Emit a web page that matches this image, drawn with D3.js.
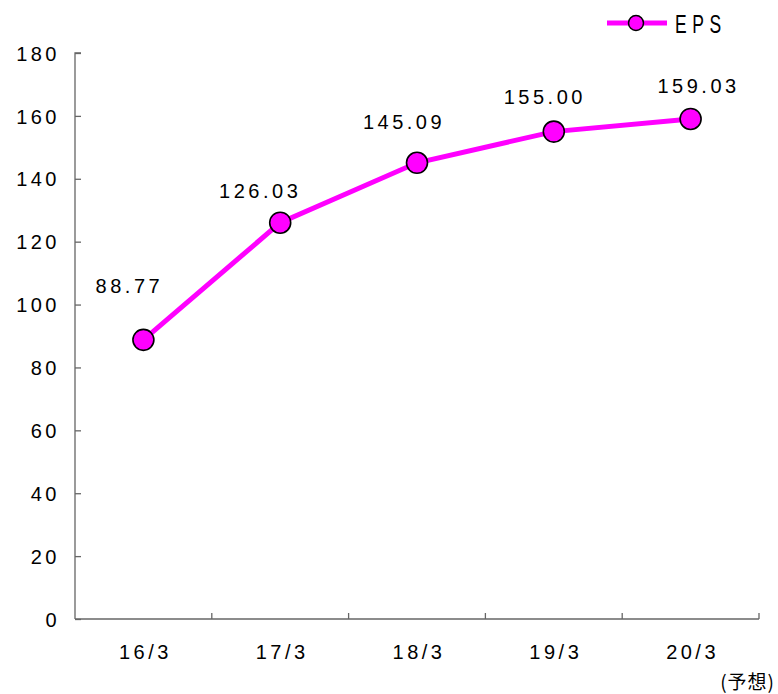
<!DOCTYPE html>
<html>
<head>
<meta charset="utf-8">
<script src="https://cdn.jsdelivr.net/npm/d3@7"></script>
<style>
  body { margin: 0; background: #fff; }
  svg { display: block; font-family: "Liberation Sans", Arial, sans-serif; }
</style>
</head>
<body>
<div id="chart"></div>
<script>
// data
const categories = ['16/3', '17/3', '18/3', '19/3', '20/3'];
const eps = [88.77, 126.03, 145.09, 155.00, 159.03];
const yTicks = [0, 20, 40, 60, 80, 100, 120, 140, 160, 180];
const seriesName = 'EPS';
const forecastNote = '(予想)';

const W = 778, H = 694;
const plot = { left: 75, right: 759, top: 53, bottom: 619 };
const magenta = '#ff00ff';
const axisColor = '#666';
const fontSize = '20px';
const spacing = '3.5px';

const svg = d3.select('#chart').append('svg')
    .attr('width', W)
    .attr('height', H);

const x = d3.scaleBand()
    .domain(categories)
    .range([plot.left, plot.right]);

const y = d3.scaleLinear()
    .domain([0, 180])
    .range([plot.bottom, plot.top]);

// y axis (ticks point inward)
const yAxis = svg.append('g')
    .attr('transform', `translate(${plot.left},0)`)
    .call(d3.axisRight(y).tickValues(yTicks).tickSize(6).tickFormat(d3.format('d')));
yAxis.select('.domain').attr('d', `M6,${plot.top}H0V${plot.bottom}`).attr('stroke', axisColor).attr('stroke-width', 1.3);
yAxis.selectAll('.tick line').attr('stroke', axisColor).attr('stroke-width', 1.3);
yAxis.selectAll('.tick text')
    .attr('x', -15)
    .attr('text-anchor', 'end')
    .attr('dy', '0.36em')
    .attr('fill', '#000')
    .style('font-size', fontSize)
    .style('letter-spacing', spacing);

// x axis (ticks between categories, pointing up)
const xAxis = svg.append('g')
    .attr('transform', `translate(0,${plot.bottom})`);
xAxis.append('line')
    .attr('x1', plot.left).attr('x2', plot.right)
    .attr('stroke', axisColor).attr('stroke-width', 1.3);
xAxis.selectAll('.xtick')
    .data(categories)
    .enter()
    .append('line')
    .attr('x1', d => x(d) + x.bandwidth())
    .attr('x2', d => x(d) + x.bandwidth())
    .attr('y1', 0).attr('y2', -6)
    .attr('stroke', axisColor).attr('stroke-width', 1.3);
xAxis.selectAll('.xlabel')
    .data(categories)
    .enter()
    .append('text')
    .attr('x', d => x(d) + x.bandwidth() / 2 + 2)
    .attr('y', 40)
    .attr('text-anchor', 'middle')
    .attr('fill', '#000')
    .style('font-size', fontSize)
    .style('letter-spacing', spacing)
    .text(d => d);

svg.append('text')
    .attr('x', 775)
    .attr('y', 689)
    .attr('text-anchor', 'end')
    .attr('fill', '#000')
    .style('font-size', '19px')
    .style('letter-spacing', '1px')
    .style('font-family', '"Noto Sans CJK JP", sans-serif')
    .text(forecastNote);

// line
const cx = d => x(d) + x.bandwidth() / 2;
const line = d3.line()
    .x((d, i) => cx(categories[i]))
    .y(d => y(d));

svg.append('path')
    .datum(eps)
    .attr('d', line)
    .attr('fill', 'none')
    .attr('stroke', magenta)
    .attr('stroke-width', 5);

svg.selectAll('.pt')
    .data(eps)
    .enter()
    .append('circle')
    .attr('cx', (d, i) => cx(categories[i]))
    .attr('cy', d => y(d))
    .attr('r', 10.5)
    .attr('fill', magenta)
    .attr('stroke', '#000')
    .attr('stroke-width', 1.6);

// value labels, hand placed like the original
const labelShift = [[-16, -47], [-22, -25], [-15, -34], [-11, -28], [6, -26]];
svg.selectAll('.val')
    .data(eps)
    .enter()
    .append('text')
    .attr('x', (d, i) => cx(categories[i]) + labelShift[i][0] + 2)
    .attr('y', (d, i) => y(d) + labelShift[i][1])
    .attr('text-anchor', 'middle')
    .attr('fill', '#000')
    .style('font-size', fontSize)
    .style('letter-spacing', spacing)
    .text(d => d.toFixed(2));

// legend
const lg = svg.append('g');
lg.append('line')
    .attr('x1', 607).attr('x2', 667)
    .attr('y1', 23).attr('y2', 23)
    .attr('stroke', magenta).attr('stroke-width', 5);
lg.append('circle')
    .attr('cx', 636).attr('cy', 23).attr('r', 7.5)
    .attr('fill', magenta).attr('stroke', '#000').attr('stroke-width', 1.5);
lg.append('text')
    .attr('transform', 'translate(675,33) scale(0.7,1)')
    .attr('fill', '#000')
    .style('font-size', '25px')
    .style('letter-spacing', '8px')
    .text(seriesName);
</script>
</body>
</html>
